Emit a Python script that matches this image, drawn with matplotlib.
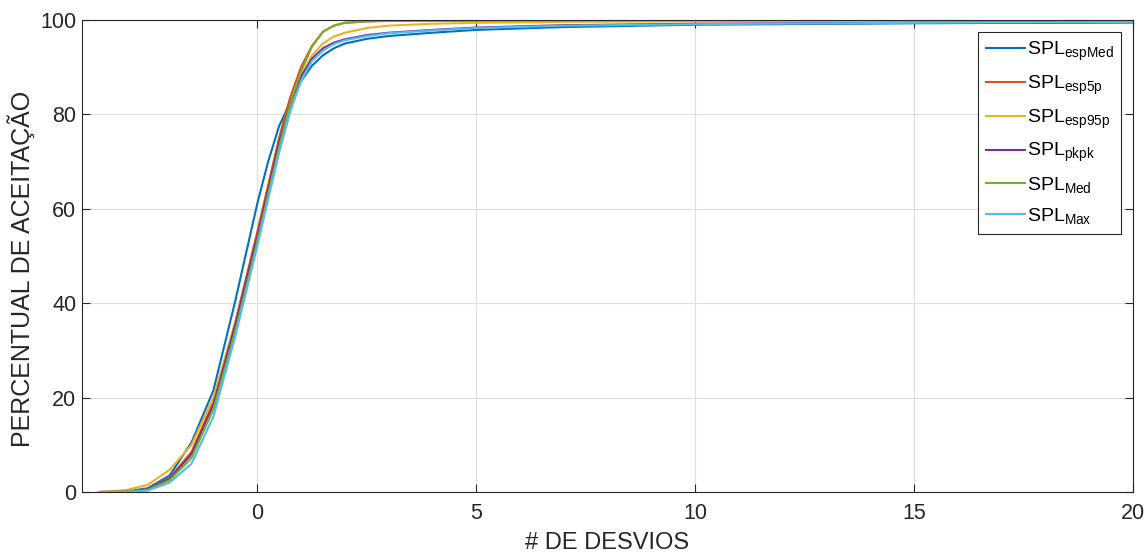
import numpy as np
import matplotlib
matplotlib.use('Agg')
import matplotlib.pyplot as plt

plt.rcParams['font.family'] = ['Liberation Sans', 'DejaVu Sans']
plt.rcParams['mathtext.fontset'] = 'custom'
plt.rcParams['mathtext.rm'] = 'Liberation Sans'
plt.rcParams['mathtext.it'] = 'Liberation Sans'

# desvios (x) e percentual de aceitação de cada métrica
desvios = [-3.6, -3.0, -2.5, -2.0, -1.5, -1.0, -0.5, 0.0, 0.25, 0.5, 0.75, 1.0, 1.25,
           1.5, 1.75, 2.0, 2.5, 3.0, 4.0, 5.0, 7.0, 10.0, 15.0, 20.0]
esp_med = [0, 0.1, 0.8, 3.5, 10.5, 21.5, 40.5, 61, 70, 77.5, 82.5, 87, 90.3,
           92.5, 94.0, 95.0, 96.0, 96.6, 97.3, 97.9, 98.5, 99.0, 99.3, 99.5]
esp_5p = [0, 0.1, 0.6, 3.0, 8.5, 19, 36, 55, 65, 75, 83.5, 90, 94.5,
          97.5, 98.8, 99.4, 99.7, 99.8, 99.85, 99.9, 99.95, 100, 100, 100]
esp_95p = [0, 0.4, 1.5, 4.7, 10, 20, 36, 53, 62.5, 72, 80.5, 88, 92.5,
           95, 96.5, 97.3, 98.3, 98.8, 99.2, 99.4, 99.6, 99.7, 99.75, 99.8]
pkpk = [0, 0.05, 0.5, 2.8, 8, 18.5, 35.5, 54, 64, 74, 82, 88, 91.8,
        94, 95.2, 95.9, 96.8, 97.3, 97.9, 98.4, 98.9, 99.2, 99.4, 99.5]
med = [0, 0.05, 0.4, 2.5, 7.2, 17.5, 34, 53, 63, 73, 82, 89, 94.3,
       97.5, 98.8, 99.4, 99.7, 99.8, 99.85, 99.9, 99.95, 100, 100, 100]
spl_max = [0, 0.02, 0.3, 2.0, 6.0, 16, 33, 52, 62, 72, 80.5, 87, 91.3,
           93.5, 94.9, 95.7, 96.6, 97.2, 97.8, 98.3, 98.8, 99.1, 99.4, 99.6]

series = [esp_med, esp_5p, esp_95p, pkpk, med, spl_max]
labels = [r'SPL$_{\mathrm{espMed}}$', r'SPL$_{\mathrm{esp5p}}$', r'SPL$_{\mathrm{esp95p}}$',
          r'SPL$_{\mathrm{pkpk}}$', r'SPL$_{\mathrm{Med}}$', r'SPL$_{\mathrm{Max}}$']
colors = [(0, 0.447, 0.741), (0.85, 0.325, 0.098), (0.929, 0.694, 0.125),
          (0.494, 0.184, 0.556), (0.466, 0.674, 0.188), (0.301, 0.745, 0.933)]
dark = (0.15, 0.15, 0.15)

fig = plt.figure(figsize=(11.47, 5.55), dpi=100)
ax = fig.add_axes([0.0715, 0.1135, 0.9163, 0.8505])

for y, lab, c in zip(series, labels, colors):
    ax.plot(desvios, y, color=c, linewidth=1.5, label=lab)

ax.set_xlim(-4, 20)
ax.set_ylim(0, 100)
ax.set_xticks([0, 5, 10, 15, 20])
ax.set_yticks([0, 20, 40, 60, 80, 100])
ax.grid(True, color=(0.87, 0.87, 0.87), linewidth=0.8)
ax.set_axisbelow(True)
ax.tick_params(direction='in', top=True, right=True, length=6, width=0.8,
               colors=dark, labelsize=15.5)
ax.tick_params(axis='y', pad=4)
ax.tick_params(axis='x', pad=8)
for s in ax.spines.values():
    s.set_color(dark)
    s.set_linewidth(0.8)

ax.set_xlabel('# DE DESVIOS', fontsize=17, color=dark)
ax.set_ylabel('PERCENTUAL DE ACEITAÇÃO', fontsize=18, color=dark)
ax.xaxis.set_label_coords(0.5, -0.085)
ax.yaxis.set_label_coords(-0.045, 0.472)

leg = ax.legend(loc='upper right', bbox_to_anchor=(0.989, 0.975), borderaxespad=0,
                fontsize=14, fancybox=False, framealpha=1, edgecolor=dark,
                handlelength=2.0, handletextpad=0.1, labelspacing=0.55, borderpad=0.4)
leg.get_frame().set_linewidth(0.8)

fig.savefig('out.png', dpi=100)
